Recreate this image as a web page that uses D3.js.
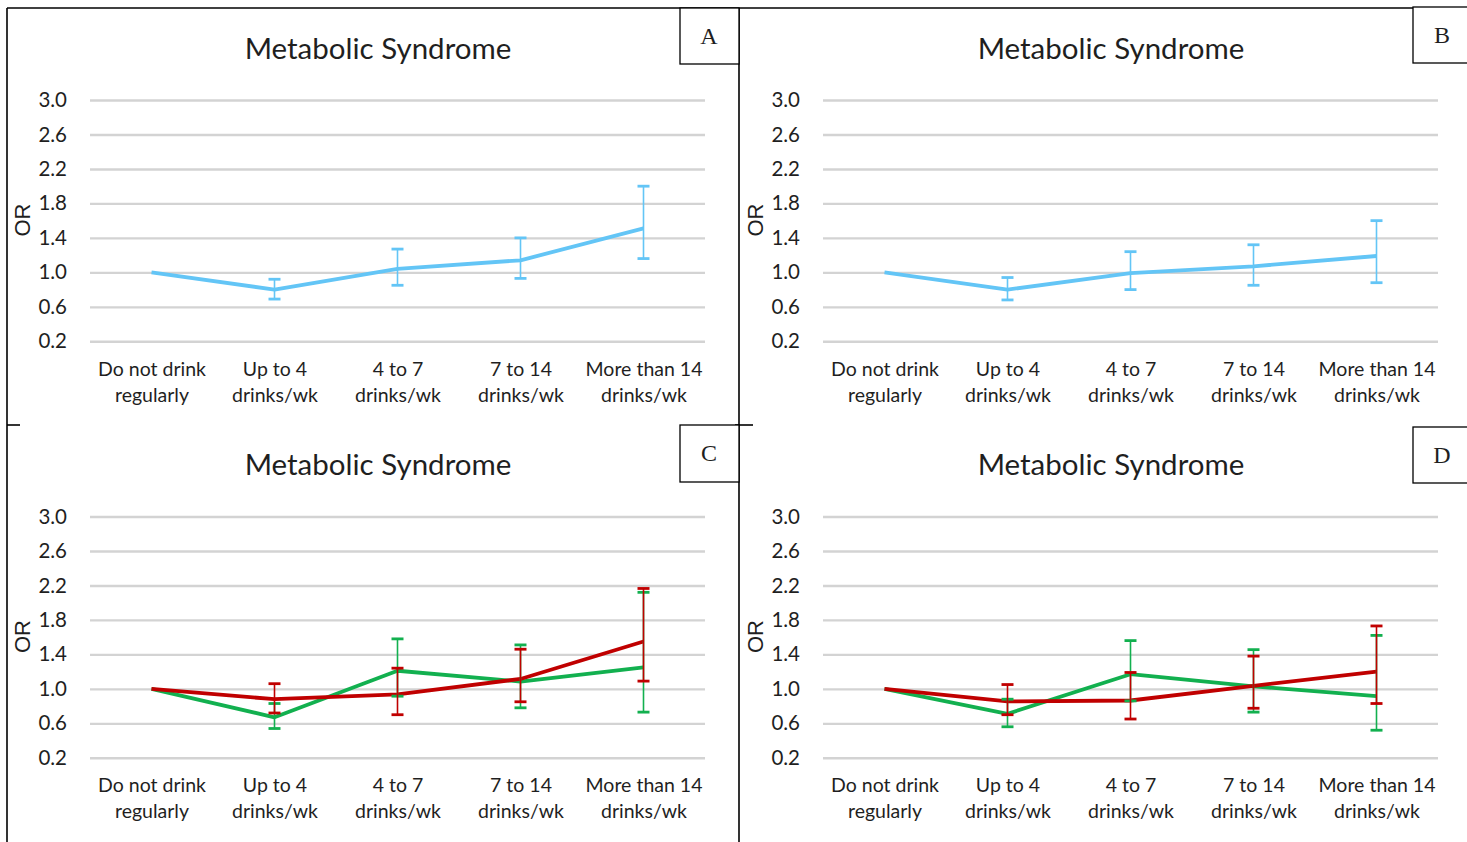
<!DOCTYPE html>
<html>
<head>
<meta charset="utf-8">
<script src="https://cdn.jsdelivr.net/npm/d3@7"></script>
<style>
  body { margin: 0; background: #fff; }
  svg { display: block; }
  text { font-family: Lato, "Open Sans", sans-serif; fill: #1f1f1f; }
</style>
</head>
<body>
<svg id="chart" width="1467" height="842"></svg>
<script>
// ---- data ----
const categories = [
  ["Do not drink", "regularly"],
  ["Up to 4", "drinks/wk"],
  ["4 to 7", "drinks/wk"],
  ["7 to 14", "drinks/wk"],
  ["More than 14", "drinks/wk"]
];
const yTickValues = [0.2, 0.6, 1.0, 1.4, 1.8, 2.2, 2.6, 3.0];
const chartTitle = "Metabolic Syndrome";
const yAxisLabel = "OR";
const panelLabels = ["A", "B", "C", "D"];

// Panel A (odds ratio with 95% CI; first category is the reference)
const orA   = [1.00, 0.80, 1.04, 1.14, 1.51];
const lowA  = [null, 0.69, 0.85, 0.93, 1.16];
const highA = [null, 0.92, 1.27, 1.40, 2.00];

// Panel B
const orB   = [1.00, 0.80, 0.99, 1.07, 1.19];
const lowB  = [null, 0.68, 0.80, 0.85, 0.88];
const highB = [null, 0.94, 1.24, 1.32, 1.60];

// Panel C, green series
const orCg   = [1.00, 0.67, 1.21, 1.085, 1.25];
const lowCg  = [null, 0.54, 0.915, 0.78, 0.73];
const highCg = [null, 0.83, 1.58, 1.51, 2.12];
// Panel C, red series
const orCr   = [1.00, 0.88, 0.935, 1.115, 1.55];
const lowCr  = [null, 0.72, 0.70, 0.85, 1.09];
const highCr = [null, 1.06, 1.24, 1.46, 2.165];

// Panel D, green series
const orDg   = [1.00, 0.71, 1.17, 1.03, 0.915];
const lowDg  = [null, 0.56, 0.86, 0.73, 0.52];
const highDg = [null, 0.88, 1.56, 1.455, 1.62];
// Panel D, red series
const orDr   = [1.00, 0.855, 0.865, 1.035, 1.20];
const lowDr  = [null, 0.70, 0.65, 0.775, 0.83];
const highDr = [null, 1.05, 1.19, 1.38, 1.73];

// ---- styling ----
const BLUE = "#63c5f6", GREEN = "#12b04f", RED = "#c00000";

const panels = [
  { label: panelLabels[0], dx: 0,   dy: 0,     box: [680, 8, 59, 56],
    series: [{ or: orA, low: lowA, high: highA, color: BLUE }] },
  { label: panelLabels[1], dx: 733, dy: 0,     box: [1413, 7, 60, 56],
    series: [{ or: orB, low: lowB, high: highB, color: BLUE }] },
  { label: panelLabels[2], dx: 0,   dy: 416.5, box: [680, 425, 59, 57],
    series: [{ or: orCg, low: lowCg, high: highCg, color: GREEN },
             { or: orCr, low: lowCr, high: highCr, color: RED }] },
  { label: panelLabels[3], dx: 733, dy: 416.5, box: [1413, 427, 60, 56],
    series: [{ or: orDg, low: lowDg, high: highDg, color: GREEN },
             { or: orDr, low: lowDr, high: highDr, color: RED }] }
];

const svg = d3.select("#chart");
svg.append("rect").attr("width", 1467).attr("height", 842).attr("fill", "#fff");

panels.forEach(p => {
  const g = svg.append("g").attr("transform", `translate(${p.dx},${p.dy})`);
  const x = d3.scalePoint().domain(d3.range(categories.length)).range([90, 705]).padding(0.5);
  const y = d3.scaleLinear().domain([0.2, 3.0]).range([341.3, 100]);

  // title
  g.append("text").attr("x", 378).attr("y", 58.5).attr("text-anchor", "middle")
    .style("font-size", "29.5px").text(chartTitle);

  // y axis with gridlines
  const ya = g.append("g").attr("transform", "translate(90,0)")
    .call(d3.axisLeft(y).tickValues(yTickValues).tickFormat(d3.format(".1f"))
      .tickSize(-615).tickPadding(23));
  ya.select(".domain").remove();
  ya.selectAll(".tick line").attr("stroke", "#d3d3d3").attr("stroke-width", 2.4);
  ya.selectAll(".tick text").style("font-size", "20.5px").attr("fill", "#1f1f1f")
    .style("font-family", "Lato, sans-serif");

  // x axis labels (two lines)
  const xa = g.append("g").attr("transform", "translate(0,341.3)")
    .call(d3.axisBottom(x).tickSize(0).tickFormat(""));
  xa.select(".domain").remove();
  xa.selectAll(".tick text").remove();
  xa.selectAll(".tick").append("text")
    .attr("text-anchor", "middle").style("font-size", "19.5px").attr("fill", "#1f1f1f")
    .style("font-family", "Lato, sans-serif")
    .each(function (i) {
      const t = d3.select(this);
      categories[i].forEach((line, k) => {
        t.append("tspan").attr("x", 0).attr("y", 34.5 + k * 26).text(line);
      });
    });

  // y axis title
  g.append("text").attr("transform", "translate(30,220) rotate(-90)")
    .attr("text-anchor", "middle")
    .style("font-family", "'Liberation Sans', Arial, sans-serif")
    .style("font-size", "22px").attr("fill", "#000").text(yAxisLabel);

  // series lines
  const line = d3.line().x((d, i) => x(i)).y(d => y(d));
  p.series.forEach(s => {
    g.append("path").datum(s.or).attr("d", line).attr("fill", "none")
      .attr("stroke", s.color).attr("stroke-width", 3.8)
      .attr("stroke-linejoin", "round");
  });

  // error bars
  p.series.forEach(s => {
    const eb = g.append("g");
    s.or.forEach((v, i) => {
      if (s.low[i] == null) return;
      const cx = x(i);
      eb.append("line").attr("x1", cx).attr("x2", cx)
        .attr("y1", y(s.low[i])).attr("y2", y(s.high[i]))
        .attr("stroke", s.color).attr("stroke-width", 1.6);
      [s.low[i], s.high[i]].forEach(b => {
        eb.append("line").attr("x1", cx - 6).attr("x2", cx + 6)
          .attr("y1", y(b)).attr("y2", y(b))
          .attr("stroke", s.color).attr("stroke-width", 2.8);
      });
    });
  });
});

// panel frames
const frame = svg.append("g").attr("stroke", "#000").attr("stroke-width", 1.6).attr("fill", "none");
frame.append("line").attr("x1", 7).attr("x2", 1467).attr("y1", 8).attr("y2", 8);
frame.append("line").attr("x1", 7).attr("x2", 7).attr("y1", 8).attr("y2", 842);
frame.append("line").attr("x1", 739).attr("x2", 739).attr("y1", 8).attr("y2", 842);
frame.append("line").attr("x1", 7).attr("x2", 20).attr("y1", 425).attr("y2", 425);
frame.append("line").attr("x1", 735).attr("x2", 753).attr("y1", 425).attr("y2", 425);

// panel letter boxes
panels.forEach(p => {
  const [bx, by, bw, bh] = p.box;
  svg.append("rect").attr("x", bx).attr("y", by).attr("width", bw).attr("height", bh)
    .attr("fill", "#fff").attr("stroke", "#000").attr("stroke-width", 1.3);
  svg.append("text").attr("x", bx + 29).attr("y", by + 36).attr("text-anchor", "middle")
    .style("font-family", "'Liberation Serif', 'Times New Roman', serif")
    .style("font-size", "24px").attr("fill", "#000").text(p.label);
});
</script>
</body>
</html>
